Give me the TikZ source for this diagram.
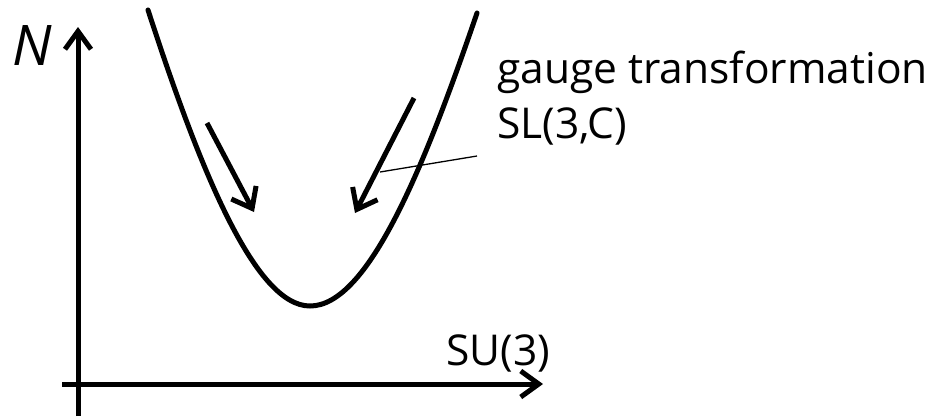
\documentclass[tikz,border=0pt]{standalone}
\usepackage{fontspec}
\setmainfont{Open Sans}
\usetikzlibrary{arrows.meta}
\tikzset{
  axis/.style={line width=5pt, -{Straight Barb[length=18pt,width=26pt,line width=5pt]}},
  curve/.style={line width=5pt, line cap=round},
  flow/.style={line width=5pt, -{Straight Barb[length=18pt,width=28pt,line width=5pt]}},
  leader/.style={line width=1.3pt},
  lbl/.style={inner sep=0pt, anchor=base west, font=\fontsize{42.5}{55}\selectfont, align=left}
}
\begin{document}
\begin{tikzpicture}[x=1pt,y=-1pt]
\useasboundingbox (0,0) rectangle (934,416);
% axes
\coordinate (ybot) at (78,416);
\coordinate (ytop) at (78,27);
\coordinate (xleft) at (62,384);
\coordinate (xright) at (543,384);
\draw[axis] (ybot) -- (ytop);
\draw[axis] (xleft) -- (xright);
% labels
\node[inner sep=0pt, anchor=base west, font=\fontsize{56}{60}\selectfont\itshape] (Nlab) at (12,65) {N};
\node[lbl] (su) at (446,365) {SU(3)};
\node[lbl] (gauge) at (497,138) {gauge transformation\\SL(3,C)};
% curve
\coordinate (cl) at (148,10);
\coordinate (cmin) at (310,306);
\coordinate (cr) at (477,13);
\draw[curve] (cl) .. controls (200,170) and (255,306) .. (cmin)
  .. controls (368,306) and (424,168) .. (cr);
% flow arrows
\coordinate (a1s) at (207,123);
\coordinate (a1e) at (254,212);
\coordinate (a2s) at (414,98);
\coordinate (a2e) at (355,213);
\draw[flow] (a1s) -- (a1e);
\draw[flow] (a2s) -- (a2e);
% leader
\coordinate (lead) at (380,172);
\draw[leader] (lead) -- (477,156);
\end{tikzpicture}
\end{document}
